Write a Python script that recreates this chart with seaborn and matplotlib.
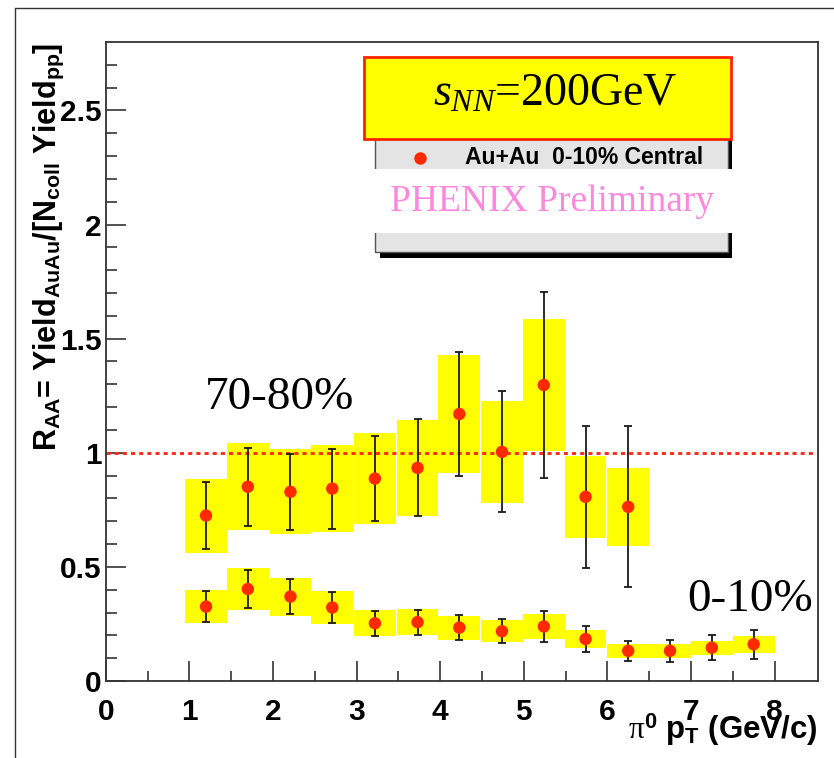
import numpy as np
import pandas as pd
import matplotlib
matplotlib.use("Agg")
import matplotlib.pyplot as plt
from matplotlib.patches import Rectangle
from matplotlib.lines import Line2D
import seaborn as sns

# ---------------- data ----------------
pt_periph = [1.20, 1.70, 2.21, 2.71, 3.22, 3.73, 4.23, 4.74, 5.24, 5.74, 6.25]
raa_periph = [0.725, 0.851, 0.829, 0.843, 0.887, 0.934, 1.170, 1.004, 1.297, 0.807, 0.763]
stat_periph = [0.148, 0.172, 0.166, 0.175, 0.186, 0.213, 0.273, 0.265, 0.407, 0.312, 0.353]
sys_periph = [0.162, 0.190, 0.187, 0.189, 0.199, 0.209, 0.259, 0.224, 0.289, 0.180, 0.171]

pt_central = [1.20, 1.70, 2.21, 2.71, 3.22, 3.73, 4.23, 4.74, 5.24, 5.74, 6.25, 6.75, 7.25, 7.75]
raa_central = [0.326, 0.403, 0.370, 0.322, 0.253, 0.258, 0.234, 0.218, 0.239, 0.184, 0.132, 0.132, 0.146, 0.161]
stat_central = [0.067, 0.084, 0.077, 0.069, 0.054, 0.055, 0.054, 0.052, 0.068, 0.056, 0.045, 0.048, 0.054, 0.064]
sys_central = [0.071, 0.090, 0.083, 0.073, 0.057, 0.057, 0.053, 0.049, 0.053, 0.041, 0.030, 0.030, 0.031, 0.037]

x_ticks = [0, 1, 2, 3, 4, 5, 6, 7, 8]
x_ticklabels = ["0", "1", "2", "3", "4", "5", "6", "7", "8"]
y_ticks = [0, 0.5, 1, 1.5, 2, 2.5]
y_ticklabels = ["0", "0.5", "1", "1.5", "2", "2.5"]

box_width = 0.5
energy_label = r"$s_{NN}$=200GeV"
legend_label = "Au+Au  0-10% Central"
prelim_label = "PHENIX Preliminary"
label_periph = "70-80%"
label_central = "0-10%"

df_p = pd.DataFrame({"pt": pt_periph, "raa": raa_periph, "stat": stat_periph, "sys": sys_periph})
df_c = pd.DataFrame({"pt": pt_central, "raa": raa_central, "stat": stat_central, "sys": sys_central})

# ---------------- style ----------------
sns.set_theme(style="white")
plt.rcParams["font.family"] = ["Liberation Sans", "DejaVu Sans"]
plt.rcParams["mathtext.fontset"] = "custom"
plt.rcParams["mathtext.rm"] = "Liberation Serif"
plt.rcParams["mathtext.it"] = "Liberation Serif:italic"
plt.rcParams["mathtext.sf"] = "Liberation Sans:bold"
plt.rcParams["mathtext.bf"] = "Liberation Sans:bold"

W, H = 834, 758
fig = plt.figure(figsize=(W / 100, H / 100), dpi=100)
fig.patch.set_facecolor("white")

def fx(px):
    return px / W

def fy(py):
    return 1 - py / H

ax_left, ax_right, ax_top, ax_bot = 105.7, 818, 42, 681
ax = fig.add_axes([fx(ax_left), fy(ax_bot), fx(ax_right) - fx(ax_left), fy(ax_top) - fy(ax_bot)])
ax.set_facecolor("white")

YELLOW = "#ffff00"
RED = "#ff2a00"

for df in (df_p, df_c):
    ax.bar(df["pt"], 2 * df["sys"], bottom=df["raa"] - df["sys"], width=box_width,
           color=YELLOW, edgecolor="none", zorder=1)

ax.axhline(1.0, color="#ff2a1a", lw=2.1, linestyle=(0, (1.4, 1.4)), zorder=2)

for df in (df_p, df_c):
    ax.errorbar(df["pt"], df["raa"], yerr=df["stat"], fmt="none", ecolor="#1a1a1a",
                elinewidth=1.3, capsize=2.6, capthick=1.3, zorder=4)
    sns.scatterplot(data=df, x="pt", y="raa", color=RED, s=80, edgecolor="none",
                    zorder=5, ax=ax, legend=False)

ax.set_xlim(0, 8.52)
ax.set_ylim(0, 2.8)
ax.set_xlabel("")
ax.set_ylabel("")
ax.set_xticks(x_ticks)
ax.set_xticklabels(x_ticklabels)
ax.set_yticks(y_ticks)
ax.set_yticklabels(y_ticklabels)
ax.set_xticks(np.arange(0.5, 8.5, 1.0), minor=True)
ax.set_yticks([v for v in np.arange(0.1, 2.8, 0.1) if abs(v * 2 - round(v * 2)) > 1e-6], minor=True)

frame_col = "#333333"
for sp in ax.spines.values():
    sp.set_color(frame_col)
    sp.set_linewidth(1.3)
    sp.set_visible(True)

ax.tick_params(axis="both", which="both", direction="in", color=frame_col, width=1.2,
               bottom=True, left=True, top=False, right=False)
ax.tick_params(axis="x", which="major", length=14.4, pad=12, labelsize=21.5)
ax.tick_params(axis="x", which="minor", length=7.2)
ax.tick_params(axis="y", which="major", length=14.4, pad=3, labelsize=21.5)
ax.tick_params(axis="y", which="minor", length=8)
for lab in ax.get_xticklabels() + ax.get_yticklabels():
    lab.set_fontweight("bold")
    lab.set_color("black")

# region labels
ax.text(1.19, 1.19, label_periph, family="Liberation Serif", fontsize=34,
        va="baseline", ha="left", color="black", zorder=6)
ax.text(6.96, 0.305, label_central, family="Liberation Serif", fontsize=34,
        va="baseline", ha="left", color="black", zorder=6)

# axis titles
fig.text(fx(49), fy(43),
         r"R$_{\mathsf{AA}}$= Yield$_{\mathsf{AuAu}}$/[N$_{\mathsf{coll}}$ Yield$_{\mathsf{pp}}$]",
         rotation=90, ha="center", va="top", fontsize=22, fontweight="bold", color="black")
fig.text(fx(818), fy(739), r"$\mathrm{\pi}^{\mathsf{0}}$ p$_{\mathsf{T}}$ (GeV/c)",
         ha="right", va="baseline", fontsize=22.5, fontweight="bold", color="black")

# outer canvas frame
fig.add_artist(Line2D([fx(15), 1.0], [fy(8), fy(8)], color="#333333", lw=1.0))
fig.add_artist(Line2D([fx(15), fx(15)], [fy(8), 0.0], color="#333333", lw=1.0))

# legend block
fig.add_artist(Rectangle((fx(380), fy(258)), fx(732) - fx(380), fy(114) - fy(258),
                         facecolor="black", edgecolor="none", zorder=10))
fig.add_artist(Rectangle((fx(375), fy(252)), fx(728) - fx(375), fy(108) - fy(252),
                         facecolor="#e4e4e4", edgecolor="#555555", lw=1.0, zorder=11))
fig.add_artist(Rectangle((fx(373), fy(233)), fx(732) - fx(373), fy(169) - fy(233),
                         facecolor="white", edgecolor="none", zorder=12))
fig.add_artist(Rectangle((fx(364), fy(139)), fx(731) - fx(364), fy(57) - fy(139),
                         facecolor=YELLOW, edgecolor="#ff2200", lw=2.0, zorder=13))
fig.add_artist(Line2D([fx(420)], [fy(158)], marker="o", markersize=9, color=RED,
                      markeredgecolor="none", zorder=14))
fig.text(fx(465), fy(158), legend_label, ha="left", va="center", fontsize=16.5,
         fontweight="bold", color="black", zorder=14)
fig.text(fx(552), fy(202), prelim_label, ha="center", va="center", fontsize=27,
         family="Liberation Serif", color="#ff88dd", zorder=14)
fig.text(fx(433), fy(106), energy_label, ha="left", va="baseline", fontsize=33,
         family="Liberation Serif", color="black", zorder=14)

fig.savefig("out.png", dpi=100, facecolor="white")
